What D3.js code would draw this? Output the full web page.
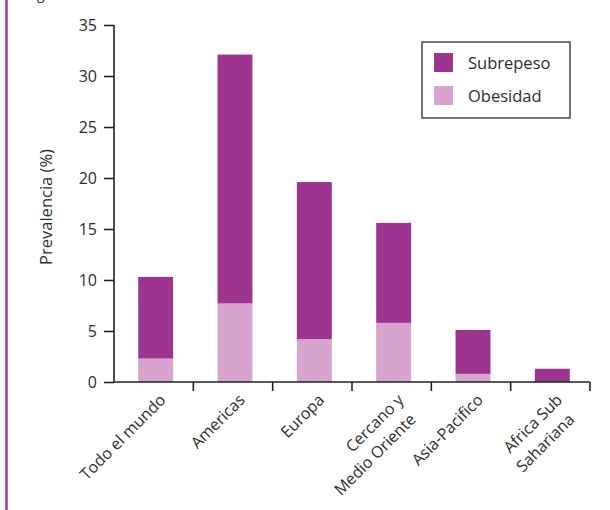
<!DOCTYPE html>
<html><head><meta charset="utf-8">
<script src="https://cdn.jsdelivr.net/npm/d3@7"></script>
<style>body{margin:0;background:#fff}svg{display:block}text{font-family:"Open Sans",sans-serif;fill:#2e2e2e}</style>
</head><body>
<svg id="c" width="610" height="510"></svg>
<script>
const categories = ["Todo el mundo","Americas","Europa","Cercano y\nMedio Oriente","Asia-Pacifico","Africa Sub\nSahariana"];
const obesidad = [2.3, 7.7, 4.2, 5.8, 0.8, 0.0];
const subrepeso = [8.0, 24.4, 15.4, 9.8, 4.3, 1.3];
const yTicks = [0,5,10,15,20,25,30,35];
const seriesNames = ["Subrepeso","Obesidad"];
const colors = {Subrepeso:"#9c3490", Obesidad:"#d6a4cc"};

const svg = d3.select("#c");
const x = d3.scaleBand().domain(categories).range([114, 590]).padding(0);
const y = d3.scaleLinear().domain([0, 35]).range([382, 25]);
const barW = x.bandwidth() * 0.44;

// left decorative rule
svg.append("line").attr("x1",6.5).attr("x2",6.5).attr("y1",0).attr("y2",510)
  .attr("stroke","#a03a9a").attr("stroke-width",2.5);
svg.append("text").attr("x",37).attr("y",-1).attr("font-size",14).text("g");

const data = categories.map((c,i)=>({cat:c, Obesidad:obesidad[i], Subrepeso:subrepeso[i]}));
const stack = d3.stack().keys(["Obesidad","Subrepeso"])(data);
svg.append("g").selectAll("g").data(stack).join("g").attr("fill",d=>colors[d.key])
  .selectAll("rect").data(d=>d).join("rect")
  .attr("x",d=>x(d.data.cat)+x.bandwidth()/2 - barW/2 + 2)
  .attr("width",barW)
  .attr("y",d=>y(d[1]))
  .attr("height",d=>y(d[0])-y(d[1]));

// y axis
const ya = svg.append("g").attr("transform","translate(114,0)")
  .call(d3.axisLeft(y).tickValues(yTicks).tickSize(10).tickPadding(7));
ya.select(".domain").attr("stroke","#222").attr("stroke-width",1.6).attr("d",`M0,${y(35)}V${y(0)}`);
ya.selectAll(".tick line").attr("stroke","#222").attr("stroke-width",1.6);
ya.selectAll(".tick text").attr("font-size",16).attr("fill","#2e2e2e").attr("font-family","Open Sans");

// x axis with ticks at band boundaries
const bounds = categories.map(c=>x(c)).concat([x.range()[1]]);
svg.append("line").attr("x1",114).attr("x2",590).attr("y1",y(0)).attr("y2",y(0))
  .attr("stroke","#222").attr("stroke-width",1.6);
svg.append("g").selectAll("line").data(bounds.slice(1)).join("line")
  .attr("x1",d=>d).attr("x2",d=>d).attr("y1",y(0)).attr("y2",y(0)+9)
  .attr("stroke","#222").attr("stroke-width",1.6);

// x labels
const lab = svg.append("g").selectAll("text").data(categories).join("text")
  .attr("transform",c=>`translate(${x(c)+x.bandwidth()/2+9},${y(0)+15}) rotate(-45)`)
  .attr("text-anchor","end").attr("font-size",16);
lab.each(function(c){
  const parts = c.split("\n");
  const t = d3.select(this);
  parts.forEach((p,i)=>{
    t.append("tspan").attr("x", i===0?0:-5).attr("dy", i===0?"0.35em":"1.4em").text(p);
  });
});

// y title
svg.append("text").attr("transform","translate(52,207) rotate(-90)")
  .attr("text-anchor","middle").attr("font-size",16.5).text("Prevalencia (%)");

// legend
const lg = svg.append("g");
lg.append("rect").attr("x",422).attr("y",42).attr("width",148).attr("height",76)
  .attr("fill","#fff").attr("stroke","#444").attr("stroke-width",1.5);
seriesNames.forEach((s,i)=>{
  lg.append("rect").attr("x",434).attr("y",53+i*33).attr("width",19).attr("height",19).attr("fill",colors[s]);
  lg.append("text").attr("x",468).attr("y",63+i*33).attr("dy","0.35em").attr("font-size",16.5).text(s);
});
</script>
</body></html>
